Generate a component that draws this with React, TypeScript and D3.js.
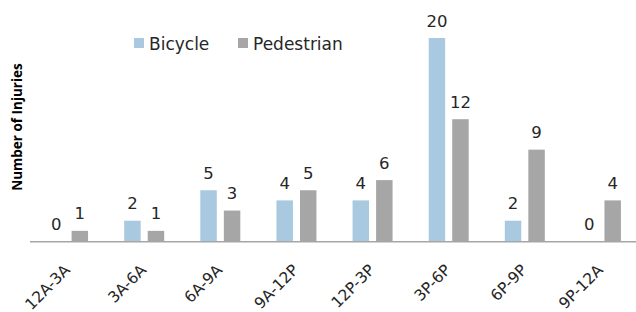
import * as d3 from 'd3';

const categories = ['12A-3A', '3A-6A', '6A-9A', '9A-12P', '12P-3P', '3P-6P', '6P-9P', '9P-12A'];
const seriesNames = ['Bicycle', 'Pedestrian'];
const bicycle = [0, 2, 5, 4, 4, 20, 2, 0];
const pedestrian = [1, 1, 3, 5, 6, 12, 9, 4];
const seriesColors = ['#a8c9df', '#a6a6a6'];

const W = 636;
const H = 312;
const FONT = '"DejaVu Sans", sans-serif';

export default function App() {
  const x0 = d3.scaleBand<string>().domain(categories).range([30, 639]);
  const x1 = d3.scaleBand<string>().domain(seriesNames).range([-20, 20]).paddingInner(0.3);
  const y = d3.scaleLinear().domain([0, 20]).range([241, 38]);
  const values = [bicycle, pedestrian];

  return (
    <div style={{ position: 'absolute', left: 0, top: 0 }}>
      <svg width={W} height={H} style={{ display: 'block', background: '#fff' }}>
        {/* bars */}
        {categories.map((c, i) => {
          const cx = (x0(c) ?? 0) + x0.bandwidth() / 2;
          return seriesNames.map((s, j) => {
            const v = values[j][i];
            const bx = cx + (x1(s) ?? 0);
            return (
              <g key={`${c}-${s}`}>
                <rect
                  x={bx}
                  y={y(v)}
                  width={x1.bandwidth()}
                  height={y(0) - y(v)}
                  fill={seriesColors[j]}
                />
                <text
                  x={bx + x1.bandwidth() / 2}
                  y={y(v) - 11.5}
                  textAnchor="middle"
                  fontSize={16.5}
                  fontFamily={FONT}
                  fill="#262626"
                >
                  {v}
                </text>
              </g>
            );
          });
        })}

        {/* baseline */}
        <line x1={30} x2={W} y1={241.75} y2={241.75} stroke="#a6a6a6" strokeWidth={1.6} />

        {/* x tick labels, rotated */}
        {categories.map((c) => {
          const cx = (x0(c) ?? 0) + x0.bandwidth() / 2;
          return (
            <text
              key={`xl-${c}`}
              transform={`translate(${cx + 3}, 271) rotate(-45)`}
              textAnchor="end"
              fontSize={15.5}
              fontFamily={FONT}
              fill="#262626"
            >
              {c}
            </text>
          );
        })}

        {/* y axis title */}
        <text
          transform="translate(22, 127) rotate(-90)"
          textAnchor="middle"
          fontSize={13.5}
          fontWeight="bold"
          fontFamily='"Open Sans", sans-serif'
          fill="#000"
        >
          Number of Injuries
        </text>

        {/* legend */}
        {seriesNames.map((s, j) => {
          const lx = j === 0 ? 134 : 238;
          return (
            <g key={`lg-${s}`}>
              <rect x={lx} y={38} width={10} height={10} fill={seriesColors[j]} />
              <text x={lx + 15} y={50} fontSize={17} fontFamily={FONT} fill="#262626">
                {s}
              </text>
            </g>
          );
        })}
      </svg>
    </div>
  );
}
